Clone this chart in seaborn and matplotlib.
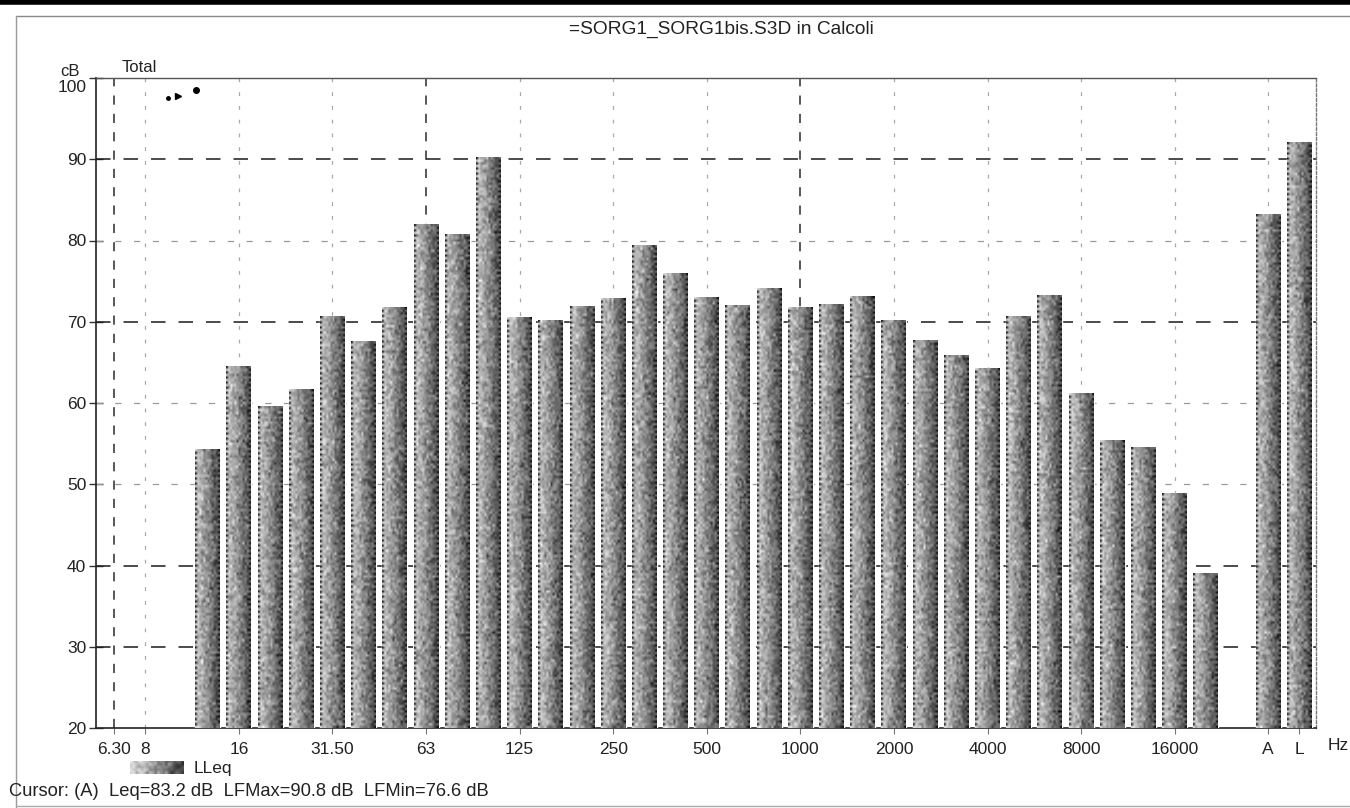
import numpy as np
import pandas as pd
import matplotlib
matplotlib.use("Agg")
import matplotlib.pyplot as plt
from matplotlib.lines import Line2D
import matplotlib.transforms as mtransforms
import seaborn as sns

# 1/3-octave band slots (6.3 Hz .. 20 kHz), a spacer, then the A and L totals
slots = ["6.3", "8", "10", "12.5", "16", "20", "25", "31.5", "40", "50", "63",
         "80", "100", "125", "160", "200", "250", "315", "400", "500", "630",
         "800", "1000", "1250", "1600", "2000", "2500", "3150", "4000", "5000",
         "6300", "8000", "10000", "12500", "16000", "20000", "gap", "A", "L"]

# measured bands (LLeq, dB)
bands = ["12.5", "16", "20", "25", "31.5", "40", "50", "63", "80", "100",
         "125", "160", "200", "250", "315", "400", "500", "630", "800", "1000",
         "1250", "1600", "2000", "2500", "3150", "4000", "5000", "6300", "8000",
         "10000", "12500", "16000", "20000", "A", "L"]
levels = [54.3, 64.5, 59.6, 61.7, 70.7, 67.6, 71.8, 82.0, 80.7, 90.2,
          70.5, 70.2, 71.9, 72.9, 79.4, 76.0, 73.0, 72.0, 74.1, 71.7,
          72.1, 73.1, 70.1, 67.7, 65.8, 64.3, 70.7, 73.2, 61.2,
          55.4, 54.5, 48.9, 39.0, 83.2, 92.1]

tick_slots = ["6.3", "8", "16", "31.5", "63", "125", "250", "500", "1000",
              "2000", "4000", "8000", "16000", "A", "L"]
tick_labels = ["6.30", "8", "16", "31.50", "63", "125", "250", "500", "1000",
               "2000", "4000", "8000", "16000", "A", "L"]

yticks = [20, 30, 40, 50, 60, 70, 80, 90, 100]
heavy_y = [90, 70, 40, 30]
light_y = [80, 60, 50]
heavy_x = ["6.3", "63", "1000"]

title = "=SORG1_SORG1bis.S3D in Calcoli"
cursor_text = "Cursor: (A)  Leq=83.2 dB  LFMax=90.8 dB  LFMin=76.6 dB"

sns.set_theme(style="white")
plt.rcParams["font.family"] = ["Liberation Sans", "DejaVu Sans"]

W, H = 1350, 808
fig = plt.figure(figsize=(W / 100, H / 100), dpi=100)
fig.patch.set_facecolor("white")

def fx(px):
    return px / W

def fy(py):
    return 1 - py / H

ax = fig.add_axes([fx(96), fy(728), fx(1316) - fx(96), fy(78) - fy(728)])

df = pd.DataFrame({"band": bands, "level": levels})
sns.barplot(data=df, x="band", y="level", order=slots, width=0.8,
            color="#7c7c7c", saturation=1, ax=ax, zorder=3)

xpos = {s: i for i, s in enumerate(slots)}
x_lo, x_hi = -0.58, 38.53
y_lo, y_hi = 20, 100

# grid lines
for yv in heavy_y:
    ax.add_line(Line2D([x_lo, x_hi], [yv, yv], color="#1a1a1a", lw=1.1,
                       linestyle=(0, (9.5, 8.5)), zorder=1))
for yv in light_y:
    ax.add_line(Line2D([x_lo, x_hi], [yv, yv], color="#9a9a9a", lw=0.9,
                       linestyle=(0, (5, 10)), zorder=1))
for s in tick_slots[:-1]:
    xv = xpos[s]
    if s in heavy_x:
        ax.add_line(Line2D([xv, xv], [y_lo, y_hi], color="#2a2a2a", lw=1.1,
                           linestyle=(0, (6, 6)), zorder=1))
    else:
        ax.add_line(Line2D([xv, xv], [y_lo, y_hi], color="#a8a8a8", lw=0.9,
                           linestyle=(0, (3, 8)), zorder=1))

# grainy left-to-right shading laid over each bar
rng = np.random.default_rng(11)
for p in list(ax.patches):
    h = p.get_height()
    if not np.isfinite(h) or h <= y_lo:
        continue
    x0, w = p.get_x(), p.get_width()
    ny = max(int((h - y_lo) * 3.2), 2)
    nx = 12
    t = np.linspace(0, 1, nx)
    base = 0.76 - 0.48 * t ** 1.2
    tex = base[None, :] + rng.normal(0, 0.10, (ny, nx))
    dots = np.where(np.arange(ny) % 2 == 0, 0.85, 0.12)
    tex[:, 0] = dots
    tex[:, -1] = np.roll(dots, 1) * 0.5
    ax.imshow(np.clip(tex, 0, 1), cmap="gray", vmin=0, vmax=1,
              extent=(x0, x0 + w, y_lo, h), aspect="auto", origin="lower",
              interpolation="bilinear", zorder=3.5)
ax.set_xlim(x_lo, x_hi)
ax.set_ylim(y_lo, y_hi)

# ticks and labels
ax.set_xticks([xpos[s] for s in tick_slots])
ax.set_xticklabels(tick_labels, fontsize=12.5, color="#222222")
ax.set_yticks(yticks)
ax.set_yticklabels([str(v) for v in yticks], fontsize=12.5, color="#222222")
ax.tick_params(axis="y", direction="inout", length=10, width=1.0,
               color="#333333", pad=2, left=True)
ax.tick_params(axis="x", direction="out", length=4, width=0.8,
               color="#777777", pad=6, bottom=True)
ax.set_xlabel("")
ax.set_ylabel("")
# keep the top label inside the frame, just under its tick
top_lbl = ax.get_yticklabels()[-1]
top_lbl.set_transform(top_lbl.get_transform() +
                      mtransforms.ScaledTranslation(0, -8 / 100, fig.dpi_scale_trans))

for side in ["left", "bottom"]:
    ax.spines[side].set_color("#222222")
    ax.spines[side].set_linewidth(1.2)
ax.spines["top"].set_color("#555555")
ax.spines["top"].set_linewidth(1.0)
ax.spines["right"].set_color("#777777")
ax.spines["right"].set_linewidth(1.0)
ax.spines["right"].set_linestyle((0, (2, 1.5)))

# small marks near the top-left of the plot
ax.plot([1.72], [97.6], marker="o", ms=2.5, color="black", zorder=5)
ax.plot([2.05], [97.8], marker=">", ms=4, color="black", zorder=5)
ax.plot([2.62], [98.5], marker="o", ms=4, color="black", zorder=5)

# header texts
fig.text(fx(721), fy(29), title, ha="center", va="center", fontsize=13.8,
         color="#222222")
fig.text(fx(70), fy(71), "cB", ha="center", va="center", fontsize=12,
         color="#222222")
fig.text(fx(122), fy(67), "Total", ha="left", va="center", fontsize=12,
         color="#222222")
fig.text(fx(1338), fy(745), "Hz", ha="center", va="center", fontsize=12.5,
         color="#222222")

# legend swatch and label
lax = fig.add_axes([fx(130), fy(774), fx(183) - fx(130), fy(761) - fy(774)])
g = np.linspace(0.85, 0.25, 20)[None, :] + rng.normal(0, 0.08, (5, 20))
lax.imshow(np.clip(g, 0, 1), cmap="gray", vmin=0, vmax=1, aspect="auto",
           interpolation="bilinear")
lax.set_axis_off()
fig.text(fx(194), fy(768), "LLeq", ha="left", va="center", fontsize=12.5,
         color="#222222")

fig.text(fx(9), fy(791), cursor_text, ha="left", va="center", fontsize=13.2,
         color="#222222")

# page frame
fig.add_artist(Line2D([0, 1], [fy(2), fy(2)], color="black", lw=4,
                      transform=fig.transFigure))
fig.add_artist(Line2D([fx(16), 1], [fy(16), fy(16)], color="#888888", lw=1,
                      transform=fig.transFigure))
fig.add_artist(Line2D([fx(16), fx(16)], [fy(16), 0], color="#999999", lw=1,
                      transform=fig.transFigure))
fig.add_artist(Line2D([fx(16), 1], [fy(806), fy(806)], color="#aaaaaa", lw=1,
                      transform=fig.transFigure))

fig.savefig("out.png", dpi=100, facecolor="white")
